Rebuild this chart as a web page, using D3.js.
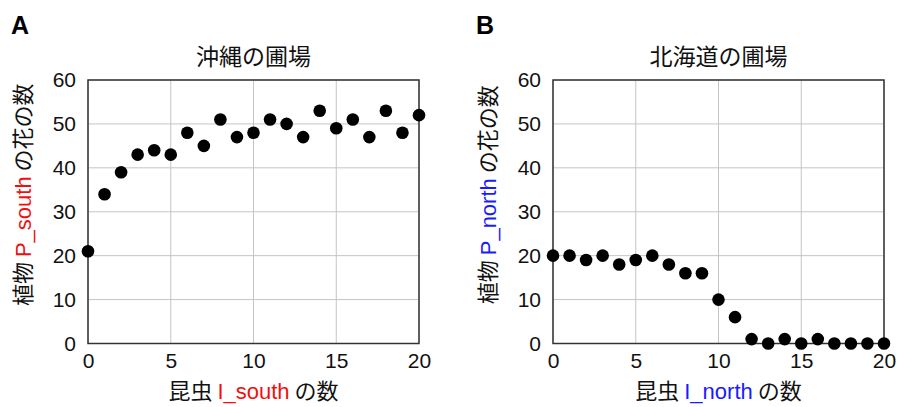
<!DOCTYPE html>
<html><head><meta charset="utf-8">
<script src="https://cdn.jsdelivr.net/npm/d3@7"></script>
<style>body{margin:0;background:#fff}svg{display:block}</style>
</head><body><svg id="c" width="898" height="407"></svg>
<script>
const insects = [0,1,2,3,4,5,6,7,8,9,10,11,12,13,14,15,16,17,18,19,20];
const southFlowers = [21,34,39,43,44,43,48,45,51,47,48,51,50,47,53,49,51,47,53,48,52];
const northFlowers = [20,20,19,20,18,19,20,18,16,16,10,6,1,0,1,0,1,0,0,0,0];
const xTicks = [0,5,10,15,20];
const yTicks = [0,10,20,30,40,50,60];
const panels = [
  {letter:"A", title:"沖縄の圃場", values:southFlowers, plant:"P_south", insect:"I_south", color:"#f01010", left:88, right:419},
  {letter:"B", title:"北海道の圃場", values:northFlowers, plant:"P_north", insect:"I_north", color:"#1a1aff", left:553, right:884}
];
const svg = d3.select("#c");
const font = "'Liberation Sans', Arial, 'Noto Sans CJK JP', sans-serif";
const cjk = "'Noto Sans CJK JP', sans-serif";
const plotTop = 80, plotBottom = 343.5;

panels.forEach(p => {
  const x = d3.scaleLinear().domain([0,20]).range([p.left, p.right]);
  const y = d3.scaleLinear().domain([0,60]).range([plotBottom, plotTop]);
  const g = svg.append("g");
  g.append("g").selectAll("line").data(xTicks).join("line")
    .attr("x1", d=>x(d)).attr("x2", d=>x(d)).attr("y1", plotTop).attr("y2", plotBottom)
    .attr("stroke", "#c4c4c4").attr("stroke-width", 1);
  g.append("g").selectAll("line").data(yTicks).join("line")
    .attr("x1", p.left).attr("x2", p.right).attr("y1", d=>y(d)).attr("y2", d=>y(d))
    .attr("stroke", "#c4c4c4").attr("stroke-width", 1);
  const xa = g.append("g").attr("transform", `translate(0,${plotBottom})`)
    .call(d3.axisBottom(x).tickValues(xTicks).tickSize(0).tickPadding(10));
  const ya = g.append("g").attr("transform", `translate(${p.left},0)`)
    .call(d3.axisLeft(y).tickValues(yTicks).tickSize(0).tickPadding(12));
  [xa, ya].forEach(a => {
    a.select(".domain").remove();
    a.selectAll("text").attr("font-family", font).attr("font-size", 21).attr("fill", "#111");
  });
  g.append("rect").attr("x", p.left).attr("y", plotTop).attr("width", p.right-p.left).attr("height", plotBottom-plotTop)
    .attr("fill", "none").attr("stroke", "#333").attr("stroke-width", 1.5);
  g.append("g").selectAll("circle").data(insects).join("circle")
    .attr("cx", d=>x(d)).attr("cy", (d,i)=>y(p.values[i])).attr("r", 6.3).attr("fill", "#000");
  svg.append("text").attr("x", p.left - 77).attr("y", 34).attr("font-family", font)
    .attr("font-weight", "bold").attr("font-size", 25).attr("fill", "#000").text(p.letter);
  svg.append("text").attr("x", (p.left+p.right)/2).attr("y", 65).attr("text-anchor", "middle")
    .attr("font-family", cjk).attr("font-size", 23).attr("fill", "#111").text(p.title);
  const xl = svg.append("text").attr("x", (p.left+p.right)/2).attr("y", 399).attr("text-anchor", "middle")
    .attr("font-size", 22).attr("fill", "#111");
  xl.append("tspan").attr("font-family", cjk).text("昆虫 ");
  xl.append("tspan").attr("font-family", font).attr("fill", p.color).text(p.insect);
  xl.append("tspan").attr("font-family", cjk).text(" の数");
  const yl = svg.append("text").attr("transform", `translate(${p.left-57},${(plotTop+plotBottom)/2 - 17}) rotate(-90)`)
    .attr("text-anchor", "middle").attr("font-size", 22).attr("fill", "#111");
  yl.append("tspan").attr("font-family", cjk).text("植物 ");
  yl.append("tspan").attr("font-family", font).attr("fill", p.color).text(p.plant);
  yl.append("tspan").attr("font-family", cjk).text(" の花の数");
});
</script></body></html>
